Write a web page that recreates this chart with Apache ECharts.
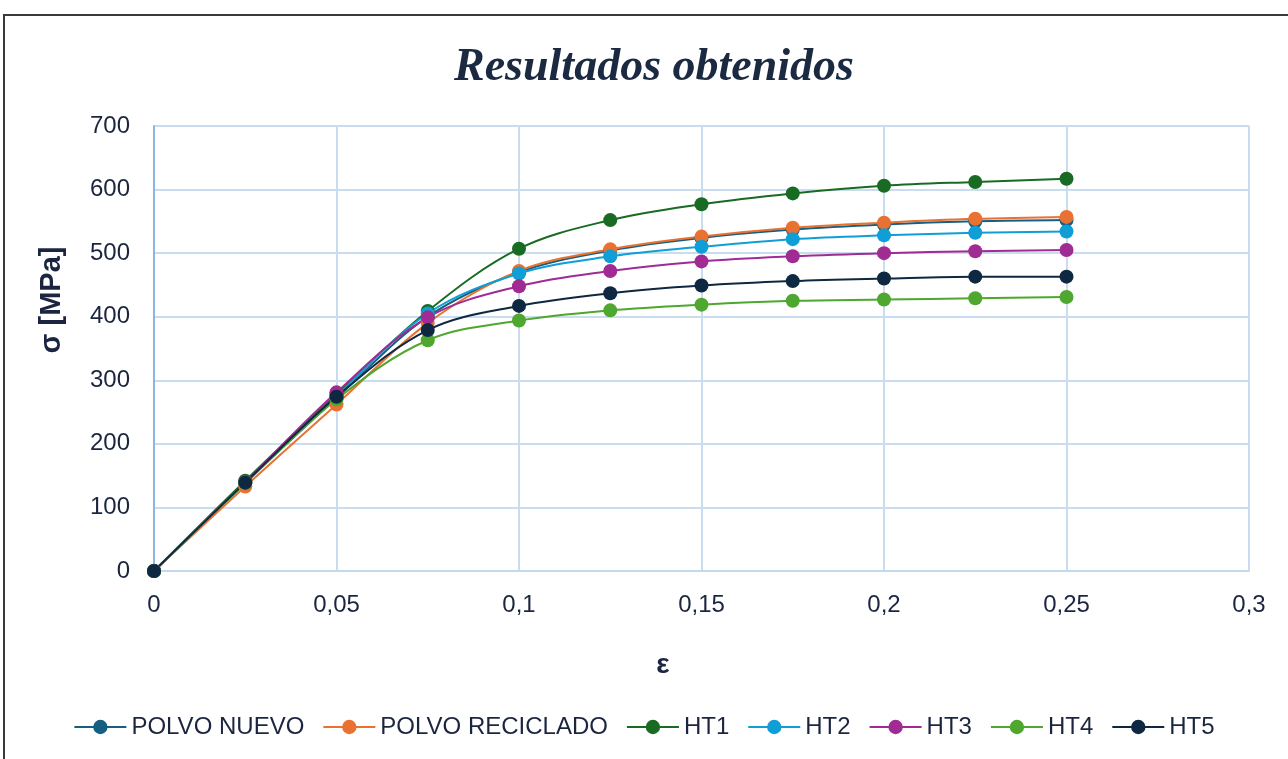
<!DOCTYPE html>
<html>
<head>
<meta charset="utf-8">
<script src="https://cdn.jsdelivr.net/npm/echarts@6/dist/echarts.min.js"></script>
<style>
  html, body { margin: 0; padding: 0; background: #fff; }
  #frame { position: absolute; left: 3px; top: 14px; width: 1300px; height: 760px;
           border-top: 2px solid #3a3a3a; border-left: 2px solid #3a3a3a; }
  #main { position: absolute; left: 0; top: 0; width: 1288px; height: 759px; }
</style>
</head>
<body>
<div id="frame"></div>
<div id="main"></div>
<script>
// deformación (eje x)
const strain = [0, 0.025, 0.05, 0.075, 0.1, 0.125, 0.15, 0.175, 0.2, 0.225, 0.25];

// tensión en MPa
const polvoNuevo     = [0, 139, 272, 400, 470, 504, 524, 537, 545, 550, 552];
const polvoReciclado = [0, 133, 262, 390, 472, 506, 526, 540, 548, 554, 557];
const ht1            = [0, 142, 278, 409, 507, 552, 577, 594, 606, 612, 617];
const ht2            = [0, 139, 275, 405, 468, 495, 510, 522, 528, 532, 534];
const ht3            = [0, 140, 281, 399, 448, 472, 487, 495, 500, 503, 505];
const ht4            = [0, 138, 270, 363, 394, 410, 419, 425, 427, 429, 431];
const ht5            = [0, 139, 274, 379, 417, 437, 449, 456, 460, 463, 463];

const seriesNames  = ['POLVO NUEVO', 'POLVO RECICLADO', 'HT1', 'HT2', 'HT3', 'HT4', 'HT5'];
const seriesValues = [polvoNuevo, polvoReciclado, ht1, ht2, ht3, ht4, ht5];
const seriesColors = ['#156082', '#E97132', '#196B24', '#0F9ED5', '#A02B93', '#4EA72E', '#0E2841'];

const textColor = '#1c2540';
const chart = echarts.init(document.getElementById('main'));

const series = seriesNames.map((name, i) => ({
  name: name,
  type: 'line',
  smooth: 0.35,
  symbol: 'circle',
  symbolSize: 14,
  data: strain.map((x, j) => [x, seriesValues[i][j]]),
  lineStyle: { width: 2, color: seriesColors[i] },
  itemStyle: { color: seriesColors[i] }
}));

const option = {
  backgroundColor: 'transparent',
  animation: false,
  color: seriesColors,
  title: {
    text: 'Resultados obtenidos',
    left: 649,
    top: 40,
    textAlign: 'center',
    textStyle: {
      fontFamily: 'Liberation Serif',
      fontStyle: 'italic',
      fontWeight: 'bold',
      fontSize: 46,
      color: '#1b2a41'
    }
  },
  grid: { left: 154, right: 39, top: 126, bottom: 188 },
  legend: {
    left: 'center',
    top: 710,
    itemWidth: 52,
    itemHeight: 18,
    itemGap: 18,
    textStyle: { fontFamily: 'Liberation Sans', fontSize: 24, color: textColor },
    data: seriesNames
  },
  xAxis: {
    type: 'value',
    min: 0,
    max: 0.3,
    interval: 0.05,
    axisLine: { show: true, lineStyle: { color: '#c5d8ee', width: 2 } },
    axisTick: { show: false },
    splitLine: { show: true, lineStyle: { color: '#c9dcf0', width: 2 } },
    axisLabel: {
      fontFamily: 'Liberation Sans',
      fontSize: 24,
      color: textColor,
      margin: 22,
      formatter: v => String(+v.toFixed(3)).replace('.', ',')
    }
  },
  yAxis: {
    type: 'value',
    min: 0,
    max: 700,
    interval: 100,
    axisLine: { show: true, lineStyle: { color: '#8fb6e3', width: 2 } },
    axisTick: { show: false },
    splitLine: { show: true, lineStyle: { color: '#c9dcf0', width: 2 } },
    axisLabel: {
      fontFamily: 'Liberation Sans',
      fontSize: 24,
      color: textColor,
      margin: 24
    }
  },
  graphic: [
    {
      type: 'text',
      x: 52,
      y: 300,
      rotation: Math.PI / 2,
      style: {
        text: 'σ [MPa]',
        font: 'bold 29px "Liberation Sans"',
        fill: textColor,
        textAlign: 'center',
        textVerticalAlign: 'middle'
      }
    },
    {
      type: 'text',
      x: 663,
      y: 665,
      style: {
        text: 'ε',
        font: 'bold 28px "Liberation Sans"',
        fill: textColor,
        textAlign: 'center',
        textVerticalAlign: 'middle'
      }
    }
  ],
  series: series
};

chart.setOption(option);
</script>
</body>
</html>
